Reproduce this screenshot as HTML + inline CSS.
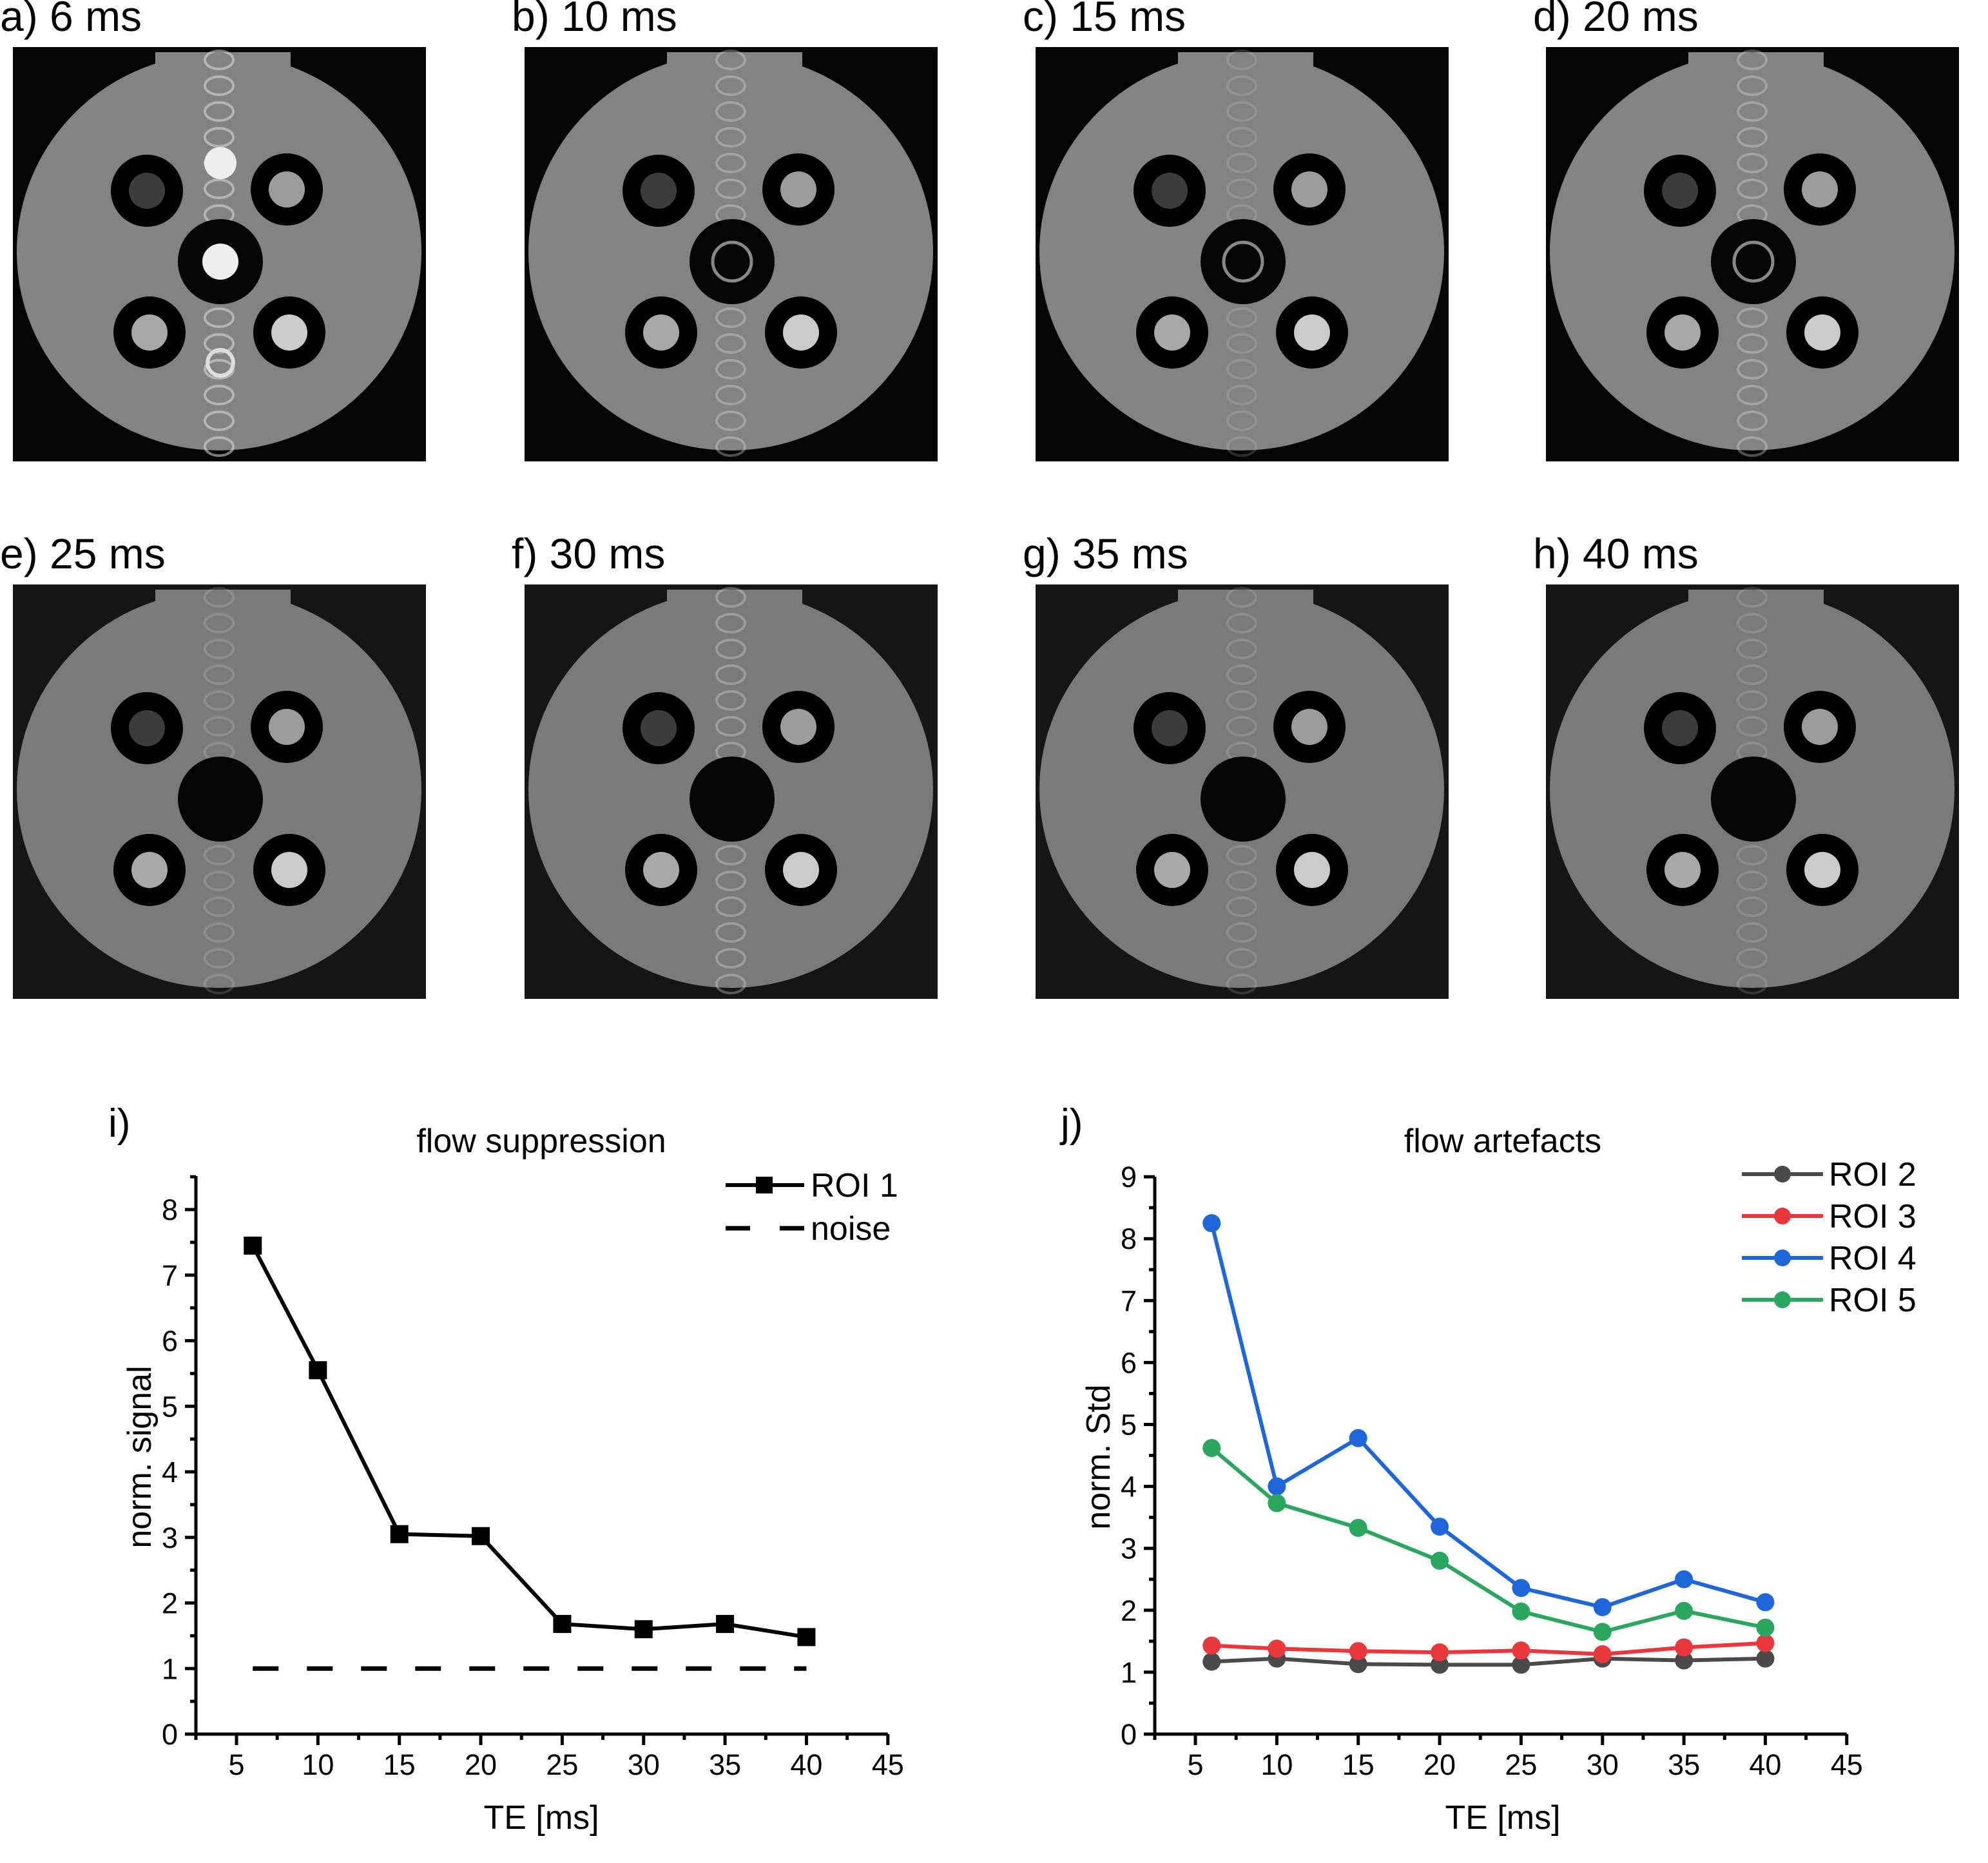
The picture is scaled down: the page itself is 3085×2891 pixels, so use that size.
<!DOCTYPE html>
<html><head><meta charset="utf-8"><style>
html,body{margin:0;padding:0;background:#fff;}
svg{display:block;font-family:"Liberation Sans",Arial,sans-serif;}
</style></head><body>
<svg id="fig" width="3085" height="2891" viewBox="0 0 3085 2891" xmlns="http://www.w3.org/2000/svg">
<g id="panels"></g>
<g id="chartI"></g>
<g id="chartJ"></g>
</svg>
<script>
// ---- data ----
const panelLabels = ["a) 6 ms","b) 10 ms","c) 15 ms","d) 20 ms","e) 25 ms","f) 30 ms","g) 35 ms","h) 40 ms"];
const teValues = [6,10,15,20,25,30,35,40];
const roi1Values = [7.45,5.55,3.05,3.02,1.68,1.60,1.68,1.48];
const noiseLevel = 1;
const roi2Values = [1.17,1.22,1.13,1.12,1.12,1.22,1.19,1.22];
const roi3Values = [1.43,1.38,1.34,1.32,1.35,1.29,1.40,1.47];
const roi4Values = [8.25,4.00,4.78,3.35,2.36,2.05,2.50,2.13];
const roi5Values = [4.62,3.73,3.33,2.80,1.98,1.65,1.99,1.72];
const xTicks = [5,10,15,20,25,30,35,40,45];
const yTicksI = [0,1,2,3,4,5,6,7,8];
const yTicksJ = [0,1,2,3,4,5,6,7,8,9];

const NS="http://www.w3.org/2000/svg";
function mk(parent,tag,attrs,text){const e=document.createElementNS(NS,tag);for(const k in attrs)e.setAttribute(k,attrs[k]);if(text!==undefined)e.textContent=text;parent.appendChild(e);return e;}

// ---- image panels ----
const panels=document.getElementById('panels');
const colX=[20,814,1607,2399], rowY=[73,907];
panelLabels.forEach((lab,i)=>{
  const r=Math.floor(i/4), c=i%4, x=colX[c], y=rowY[r];
  const t=mk(panels,'text',{x:x-20,y:y-25,'font-size':66,fill:'#000'},lab);
  
  
  const g=mk(panels,'g',{transform:`translate(${x},${y})`});
  
  
  const bg=r===0?'#050505':'#151515';
  mk(g,'rect',{x:0,y:0,width:641,height:643,fill:bg});
  const gray=r===0?'#838383':'#7a7a7a';
  mk(g,'rect',{x:221,y:8,width:210,height:60,fill:gray});
  mk(g,'ellipse',{cx:320,cy:318,rx:314,ry:308,fill:gray});
  mk(g,'rect',{x:0,y:0,width:641,height:6,fill:bg});
  const streak = i===0?0.55:(i===1||i===3||i===5)?0.35:0.18;
  for(let k=0;k<16;k++){mk(g,'ellipse',{cx:320,cy:20+k*40,rx:22,ry:14,fill:'none',stroke:'#ddd','stroke-width':4,opacity:streak});}
  const holes=[[208,223,'#3c3c3c'],[425,221,'#9c9c9c'],[212,443,'#a8a8a8'],[429,443,'#cbcbcb']];
  holes.forEach(h=>{mk(g,'circle',{cx:h[0],cy:h[1],r:56,fill:'#000'});mk(g,'circle',{cx:h[0],cy:h[1],r:28,fill:h[2]});});
  mk(g,'circle',{cx:322,cy:333,r:66,fill:'#050505'});
  if(i===0){mk(g,'circle',{cx:322,cy:333,r:28,fill:'#eee'});mk(g,'circle',{cx:322,cy:180,r:25,fill:'#eee'});mk(g,'circle',{cx:322,cy:490,r:20,fill:'none',stroke:'#ddd','stroke-width':6});}
  else if(i<4){mk(g,'circle',{cx:322,cy:333,r:30,fill:'none',stroke:'#888','stroke-width':5});}
});

// ---- chart builder ----
function buildChart(root,o){
  const x0=o.left, yb=2691, xs=v=>o.x5+(v-5)*25.27, ys=v=>yb-v*o.unit;
  const ax=mk(root,'path',{d:`M${x0},${o.top} V${yb} H${xs(45)}`,fill:'none',stroke:'#000','stroke-width':5});
  
  
  xTicks.forEach(v=>{
    mk(root,'line',{x1:xs(v),x2:xs(v),y1:yb,y2:yb+17,stroke:'#000','stroke-width':5});
    if(v<45)mk(root,'line',{x1:xs(v+2.5),x2:xs(v+2.5),y1:yb,y2:yb+9,stroke:'#000','stroke-width':5});
    const t=mk(root,'text',{x:xs(v),y:2754,'text-anchor':'middle','font-size':45},String(v));
    
    
  });
  mk(root,'line',{x1:xs(2.5)>x0?xs(2.5):x0,x2:xs(2.5)>x0?xs(2.5):x0,y1:yb,y2:yb+9,stroke:'#000','stroke-width':5});
  o.yTicks.forEach(v=>{
    mk(root,'line',{x1:x0-17,x2:x0,y1:ys(v),y2:ys(v),stroke:'#000','stroke-width':5});
    if(ys(v+0.5)>=o.top-1)mk(root,'line',{x1:x0-9,x2:x0,y1:ys(v+0.5),y2:ys(v+0.5),stroke:'#000','stroke-width':5});
    const t=mk(root,'text',{x:x0-28,y:ys(v)+16,'text-anchor':'end','font-size':45},String(v));
    
    
  });
  const xt=mk(root,'text',{x:o.cx,y:2838,'text-anchor':'middle','font-size':52},'TE [ms]');
  
  
  const yt=mk(root,'text',{x:0,y:0,transform:`translate(${o.ytx},2261) rotate(-90)`,'text-anchor':'middle','font-size':52},o.ytitle);
  
  
  const tt=mk(root,'text',{x:o.cx,y:1788,'text-anchor':'middle','font-size':52},o.title);
  
  
  const pl=mk(root,'text',{x:o.plx,y:1764,'font-size':62},o.plabel);
  
  
  return {xs,ys};
}

// chart i
const ci=document.getElementById('chartI');
const A=buildChart(ci,{left:304,x5:367,top:1825,unit:101.75,yTicks:yTicksI,cx:840,ytx:234,ytitle:'norm. signal',title:'flow suppression',plabel:'i)',plx:168});
const nl=mk(ci,'line',{x1:A.xs(teValues[0]),x2:A.xs(teValues[7]),y1:A.ys(noiseLevel),y2:A.ys(noiseLevel),stroke:'#000','stroke-width':7,'stroke-dasharray':'40 44'});


const p1=mk(ci,'polyline',{points:teValues.map((t,i)=>A.xs(t)+','+A.ys(roi1Values[i])).join(' '),fill:'none',stroke:'#000','stroke-width':6});


teValues.forEach((t,i)=>{
  const m=mk(ci,'rect',{x:A.xs(t)-14,y:A.ys(roi1Values[i])-14,width:28,height:28,fill:'#000'});
  
  
});
// legend i
const lgI=mk(ci,'g',{});


mk(lgI,'line',{x1:1126,x2:1248,y1:1839,y2:1839,stroke:'#000','stroke-width':6});
mk(lgI,'rect',{x:1173,y:1826,width:26,height:26,fill:'#000'});
mk(lgI,'text',{x:1258,y:1857,'font-size':52},'ROI 1');
mk(lgI,'line',{x1:1126,x2:1248,y1:1906,y2:1906,stroke:'#000','stroke-width':7,'stroke-dasharray':'38 46'});
mk(lgI,'text',{x:1258,y:1924,'font-size':52},'noise');

// chart j
const cj=document.getElementById('chartJ');
const B=buildChart(cj,{left:1792,x5:1855,top:1826,unit:96.1,yTicks:yTicksJ,cx:2332,ytx:1722,ytitle:'norm. Std',title:'flow artefacts',plabel:'j)',plx:1646});
const seriesJ=[['roi2',roi2Values,'#4a4a4a','ROI 2'],['roi3',roi3Values,'#e8383b','ROI 3'],['roi4',roi4Values,'#1e66da','ROI 4'],['roi5',roi5Values,'#2aa65f','ROI 5']];
seriesJ.forEach((s,k)=>{
  const pl=mk(cj,'polyline',{points:teValues.map((t,i)=>B.xs(t)+','+B.ys(s[1][i])).join(' '),fill:'none',stroke:s[2],'stroke-width':6});
  
  
  teValues.forEach((t,i)=>{
    const c=mk(cj,'circle',{cx:B.xs(t),cy:B.ys(s[1][i]),r:14,fill:s[2]});
    
    
  });
  const ly=1822+k*65;
  const lg=mk(cj,'g',{});
  
  
  mk(lg,'line',{x1:2703,x2:2829,y1:ly,y2:ly,stroke:s[2],'stroke-width':6});
  mk(lg,'circle',{cx:2766,cy:ly,r:13,fill:s[2]});
  mk(lg,'text',{x:2838,y:ly+18,'font-size':52},s[3]);
});
</script>
</body></html>
